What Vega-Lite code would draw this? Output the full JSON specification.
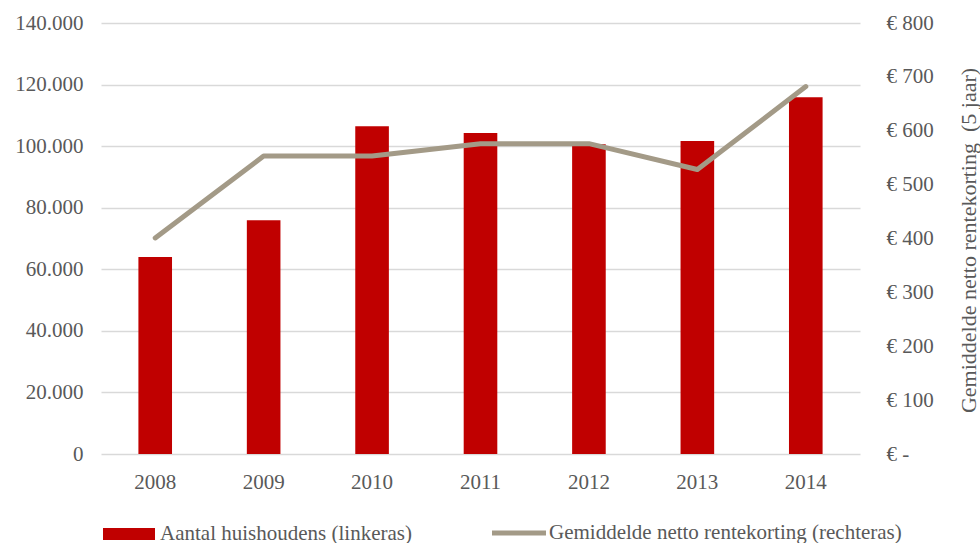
{
  "$schema": "https://vega.github.io/schema/vega-lite/v6.json",
  "width": 759,
  "height": 431,
  "autosize": {"type": "none"},
  "padding": {"left": 101, "top": 23, "right": 120, "bottom": 89},
  "background": "white",
  "config": {
    "view": {"stroke": null},
    "font": "Liberation Serif",
    "axis": {"labelFont": "Liberation Serif", "titleFont": "Liberation Serif", "labelColor": "#595959", "titleColor": "#595959", "labelFontSize": 21},
    "legend": {"labelFont": "Liberation Serif", "labelColor": "#595959", "labelFontSize": 21, "padding": 0, "labelLimit": 500}
  },
  "data": {
    "values": [
      {"jaar": "2008", "huishoudens": 64000, "rentekorting": 401},
      {"jaar": "2009", "huishoudens": 75900, "rentekorting": 553},
      {"jaar": "2010", "huishoudens": 106500, "rentekorting": 553},
      {"jaar": "2011", "huishoudens": 104300, "rentekorting": 576},
      {"jaar": "2012", "huishoudens": 100600, "rentekorting": 576},
      {"jaar": "2013", "huishoudens": 101700, "rentekorting": 528},
      {"jaar": "2014", "huishoudens": 115900, "rentekorting": 682}
    ]
  },
  "encoding": {
    "x": {
      "field": "jaar",
      "type": "ordinal",
      "scale": {"paddingInner": 0.69, "paddingOuter": 0.345},
      "axis": {"title": null, "labelAngle": 0, "domain": false, "ticks": false, "labelPadding": 17, "grid": false}
    }
  },
  "layer": [
    {
      "mark": {"type": "bar"},
      "encoding": {
        "y": {
          "field": "huishoudens",
          "type": "quantitative",
          "scale": {"domain": [0, 140000], "nice": false},
          "axis": {
            "title": null,
            "values": [0, 20000, 40000, 60000, 80000, 100000, 120000, 140000],
            "labelExpr": "replace(format(datum.value, ','), ',', '.')",
            "domain": false,
            "ticks": false,
            "grid": true,
            "gridColor": "#D9D9D9",
            "gridWidth": 1.5,
            "labelPadding": 18
          }
        },
        "fill": {
          "datum": "Aantal huishoudens (linkeras)",
          "type": "nominal",
          "scale": {"range": ["#C00000"]},
          "legend": {
            "title": null,
            "orient": "none",
            "legendX": 2,
            "legendY": 485,
            "symbolType": "M-1,-0.23H1V0.23H-1Z",
            "symbolSize": 2704,
            "symbolStrokeWidth": 0,
            "labelOffset": 5,
            "labelLimit": 500
          }
        }
      }
    },
    {
      "mark": {"type": "line", "strokeWidth": 5, "strokeCap": "round", "strokeJoin": "round"},
      "encoding": {
        "y": {
          "field": "rentekorting",
          "type": "quantitative",
          "scale": {"domain": [0, 800], "nice": false},
          "axis": {
            "orient": "right",
            "title": "Gemiddelde netto rentekorting\u00a0 (5 jaar)",
            "titleFontSize": 22,
            "titleFontWeight": "normal",
            "titleAngle": -90,
            "titleAlign": "center",
            "titleBaseline": "middle",
            "titleX": 108,
            "titleY": 217,
            "values": [0, 100, 200, 300, 400, 500, 600, 700, 800],
            "labelExpr": "datum.value == 0 ? '€ -' : '€ ' + datum.value",
            "labelAlign": "left",
            "labelPadding": 26,
            "domain": false,
            "ticks": false,
            "grid": false
          }
        },
        "stroke": {
          "datum": "Gemiddelde netto rentekorting (rechteras)",
          "type": "nominal",
          "scale": {"range": ["#A39A87"]},
          "legend": {
            "title": null,
            "orient": "none",
            "legendX": 391,
            "legendY": 483,
            "symbolType": "M-1,-0.092H1V0.092H-1Z",
            "symbolSize": 2916,
            "symbolStrokeWidth": 0,
            "symbolFillColor": "#A39A87",
            "labelOffset": 3,
            "labelLimit": 500,
            "encode": {"symbols": {"update": {"fill": {"value": "#A39A87"}, "strokeWidth": {"value": 0}}}}
          }
        }
      }
    }
  ],
  "resolve": {"scale": {"y": "independent", "fill": "independent", "stroke": "independent"}}
}
